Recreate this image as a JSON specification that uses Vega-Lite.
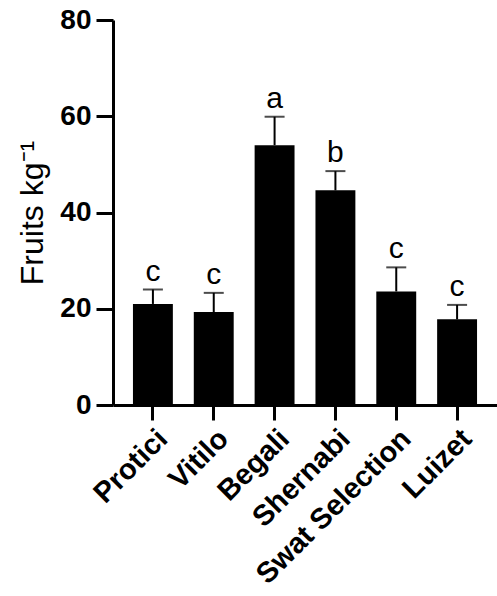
{
  "$schema": "https://vega.github.io/schema/vega-lite/v6.json",
  "autosize": {"type": "none"},
  "width": 384,
  "height": 385,
  "padding": {"left": 113, "top": 20, "right": 0, "bottom": 191},
  "background": "white",
  "config": {"view": {"stroke": null}, "font": "Liberation Sans"},
  "data": {"values": [
    {"cultivar": "Protici", "mean": 21.0, "upper": 24.0, "group": "c"},
    {"cultivar": "Vitilo", "mean": 19.3, "upper": 23.3, "group": "c"},
    {"cultivar": "Begali", "mean": 54.0, "upper": 59.9, "group": "a"},
    {"cultivar": "Shernabi", "mean": 44.6, "upper": 48.6, "group": "b"},
    {"cultivar": "Swat Selection", "mean": 23.6, "upper": 28.6, "group": "c"},
    {"cultivar": "Luizet", "mean": 17.8, "upper": 20.8, "group": "c"}
  ]},
  "encoding": {
    "x": {
      "field": "cultivar", "type": "nominal", "sort": null,
      "scale": {"paddingInner": 0.344, "paddingOuter": 0.328},
      "axis": {
        "title": null, "labelAngle": -45, "labelAlign": "right", "labelBaseline": "top",
        "labelFont": "Liberation Sans", "labelFontWeight": "bold", "labelFontSize": 29, "labelColor": "black",
        "labelPadding": 4, "labelLimit": 400,
        "domainColor": "black", "domainWidth": 3, "tickColor": "black", "tickWidth": 3, "tickSize": 15
      }
    }
  },
  "layer": [
    {
      "mark": {"type": "rule", "color": "black", "strokeWidth": 2},
      "encoding": {
        "y": {"field": "mean", "type": "quantitative"},
        "y2": {"field": "upper"}
      }
    },
    {
      "mark": {"type": "tick", "color": "black", "thickness": 2, "size": 20, "orient": "horizontal"},
      "encoding": {
        "y": {"field": "upper", "type": "quantitative"}
      }
    },
    {
      "mark": {"type": "bar", "color": "black"},
      "encoding": {
        "y": {
          "field": "mean", "type": "quantitative",
          "scale": {"domain": [0, 80], "nice": false},
          "axis": {
            "title": "Fruits kg⁻¹", "titleFont": "Liberation Sans", "titleFontWeight": "normal", "titleFontSize": 32,
            "titleColor": "black", "titlePadding": 10,
            "values": [0, 20, 40, 60, 80], "grid": false,
            "labelFont": "Liberation Sans", "labelFontWeight": "bold", "labelFontSize": 28, "labelColor": "black",
            "labelPadding": 5,
            "domainColor": "black", "domainWidth": 3, "tickColor": "black", "tickWidth": 3, "tickSize": 17
          }
        }
      }
    },
    {
      "mark": {"type": "text", "color": "black", "fontSize": 30, "font": "Liberation Sans", "baseline": "alphabetic", "dy": -9},
      "encoding": {
        "y": {"field": "upper", "type": "quantitative"},
        "text": {"field": "group", "type": "nominal"}
      }
    }
  ]
}
